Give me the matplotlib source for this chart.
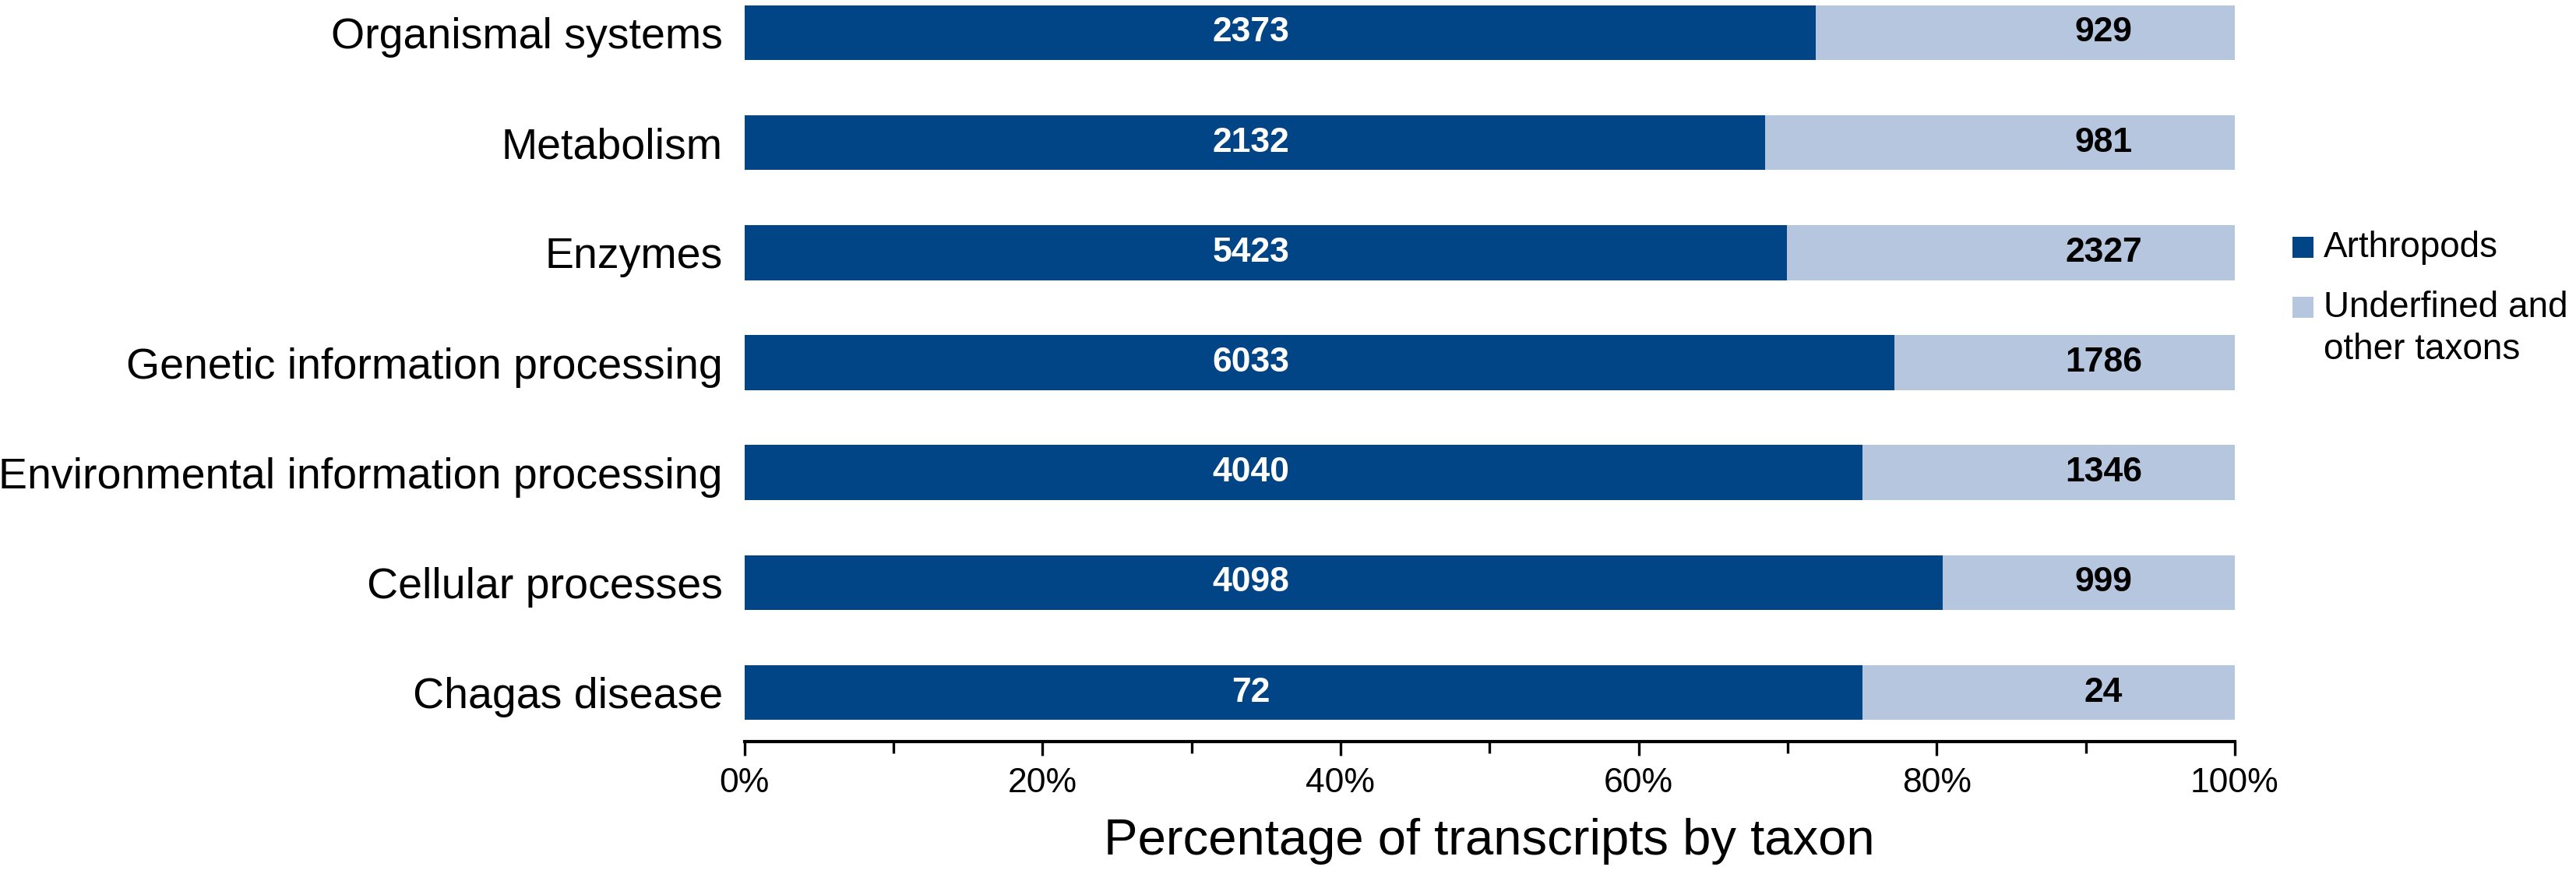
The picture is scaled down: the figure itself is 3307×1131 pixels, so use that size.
import matplotlib
matplotlib.use("Agg")
import matplotlib.pyplot as plt
from matplotlib.patches import Rectangle
import numpy as np

categories = ["Organismal systems", "Metabolism", "Enzymes",
              "Genetic information processing",
              "Environmental information processing",
              "Cellular processes", "Chagas disease"]
arthropods = [2373, 2132, 5423, 6033, 4040, 4098, 72]
others = [929, 981, 2327, 1786, 1346, 999, 24]
series_names = ["Arthropods", "Underfined and\nother taxons"]
xticks = [0, 20, 40, 60, 80, 100]

dark = "#024587"
light = "#b5c6de"

plt.rcParams["font.family"] = ["Liberation Sans", "DejaVu Sans"]

W, H = 3307, 1131
fig = plt.figure(figsize=(W / 100, H / 100), dpi=100)
ax = fig.add_axes([0.289, 0.1582, 0.5785, 0.8418])

arth = np.array(arthropods, dtype=float)
oth = np.array(others, dtype=float)
total = arth + oth
pct_a = arth / total * 100
pct_o = oth / total * 100

y = np.arange(len(categories))[::-1]  # first category at top
ax.barh(y, pct_a, height=0.5, color=dark, edgecolor="none")
ax.barh(y, pct_o, left=pct_a, height=0.5, color=light, edgecolor="none")

# count labels sit at fixed spots in each segment
for yi, a, o in zip(y, arthropods, others):
    ax.text(34, yi, str(a), color="white", fontsize=32, fontweight="bold",
            ha="center", va="center")
    ax.text(91.2, yi, str(o), color="black", fontsize=32, fontweight="bold",
            ha="center", va="center")

ax.set_xlim(0, 100)
ax.set_ylim(-0.446, 6.297)
ax.set_yticks(y)
ax.set_yticklabels(categories, fontsize=40)
ax.tick_params(axis="y", length=0, pad=20)

ax.set_xticks(xticks)
ax.set_xticklabels([f"{t}%" for t in xticks], fontsize=32)
ax.set_xticks([10, 30, 50, 70, 90], minor=True)
ax.tick_params(axis="x", which="major", length=13, width=2.4, pad=11)
ax.tick_params(axis="x", which="minor", length=10.5, width=2.4)
ax.set_xlabel("Percentage of transcripts by taxon", fontsize=47)
ax.xaxis.set_label_coords(0.5, -0.103)

for side in ["left", "right", "top"]:
    ax.spines[side].set_visible(False)
ax.spines["bottom"].set_linewidth(3)

# legend drawn by hand so the square lines up with the first text line
sq_w, sq_h = 27 / W, 27 / H
squares_y = [317, 394]          # square centres, px from top
baselines = [[330], [407, 461]]  # text baselines, px from top
for color, label, sy, bls in zip([dark, light], series_names, squares_y, baselines):
    fig.add_artist(Rectangle((2943 / W, 1 - sy / H - sq_h / 2), sq_w, sq_h,
                             transform=fig.transFigure, facecolor=color,
                             edgecolor="none"))
    for line, bl in zip(label.split("\n"), bls):
        fig.text(2983 / W, 1 - bl / H, line, fontsize=33, va="baseline",
                 ha="left")

fig.savefig("out.png", dpi=100)
